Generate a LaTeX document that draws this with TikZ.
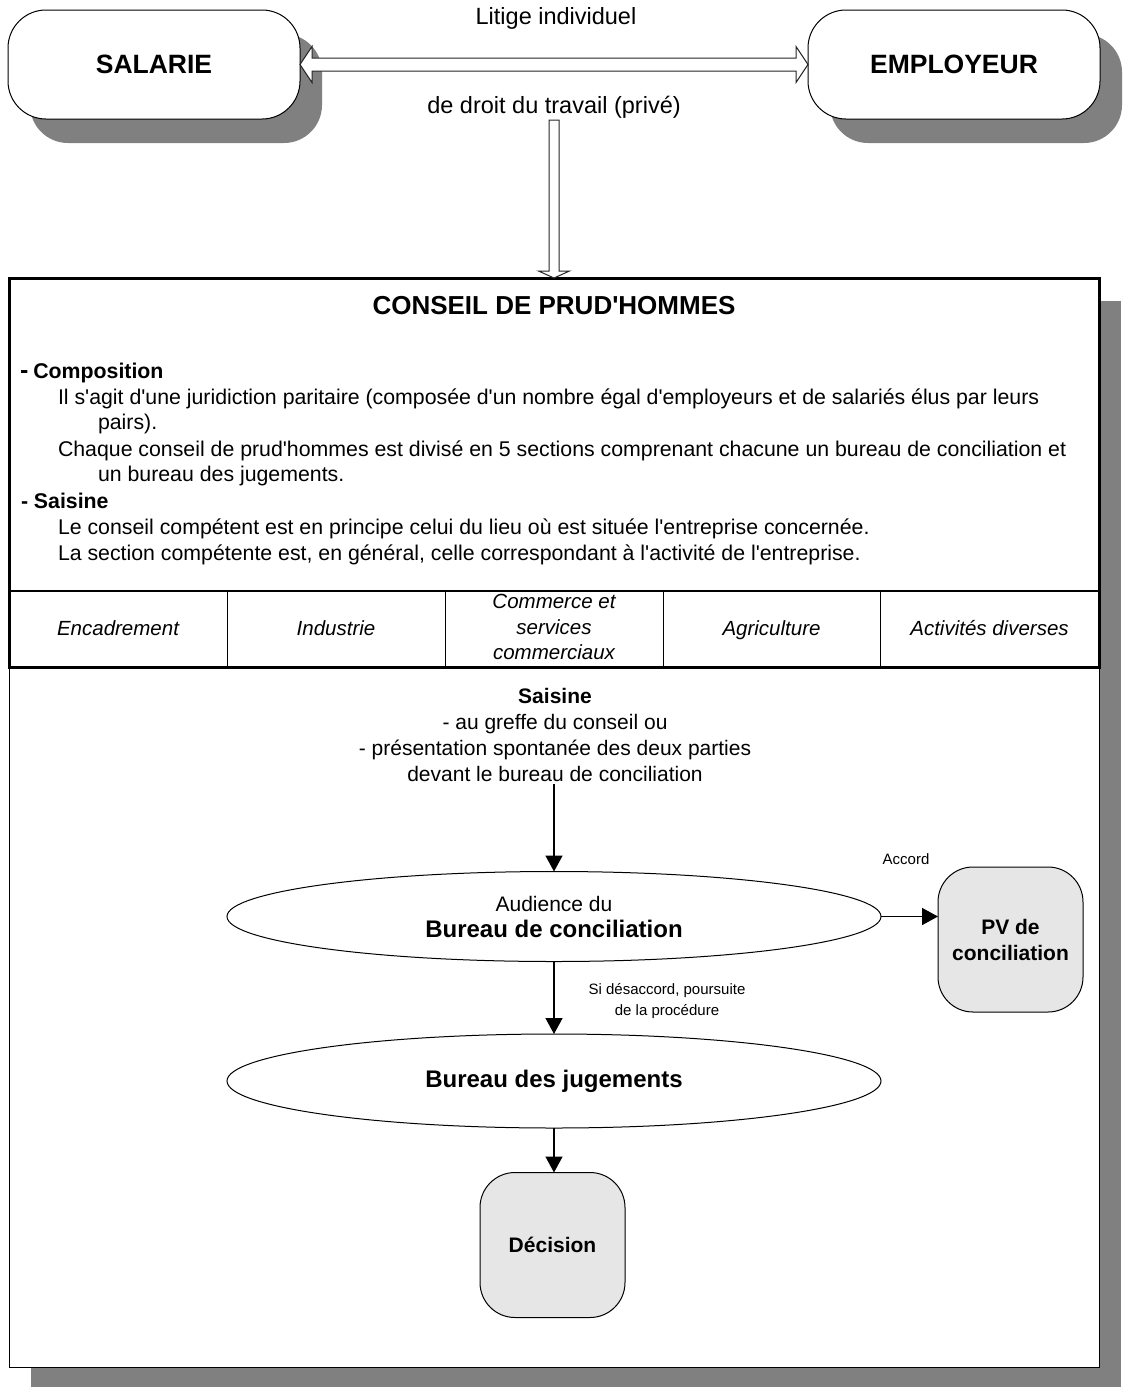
\documentclass[tikz,border=0pt]{standalone}
\usepackage{fontspec}
\setmainfont{Liberation Sans}
\newfontfamily\plainfam{Liberation Sans}
\usetikzlibrary{calc,arrows.meta,shapes.geometric,shadows}
\definecolor{shadowgray}{HTML}{808080}
\definecolor{boxgray}{HTML}{E6E6E6}
\begin{document}
\plainfam
\begin{tikzpicture}[x=1pt,y=-1pt,
  every node/.style={inner sep=0pt, outer sep=0pt},
  body/.style={font=\fontsize{21.3}{25.5}\selectfont, anchor=base west},
  bodyb/.style={font=\bfseries\fontsize{21.3}{25.5}\selectfont, anchor=base west},
  party/.style={draw, line width=1pt, fill=white, rounded corners=38pt,
    minimum width=292pt, minimum height=109pt,
    font=\bfseries\fontsize{26.5}{30}\selectfont,
    drop shadow={shadow xshift=22pt, shadow yshift=-24pt, fill=shadowgray, opacity=1}},
  toplbl/.style={font=\fontsize{23.5}{28}\selectfont},
  hollow/.style={draw=black!85, line width=1pt, fill=white, line join=miter},
  cell/.style={font=\itshape\fontsize{20.5}{25.5}\selectfont, align=center},
  cellone/.style={font=\itshape\fontsize{20.5}{25.5}\selectfont, anchor=base},
  ell/.style={draw, ellipse, line width=1pt, fill=white, minimum width=654pt, align=center},
  procbox/.style={draw, line width=1pt, fill=boxgray, rounded corners=35pt,
    minimum width=145pt, minimum height=145pt, align=center,
    font=\bfseries\fontsize{21}{26}\selectfont},
  arr/.style={line width=1.5pt, -{Triangle[length=16pt, width=17pt]}},
  small/.style={font=\fontsize{15}{21}\selectfont, align=center}
]
\useasboundingbox (0,0) rectangle (1122,1387);

% big box shadow
\fill[shadowgray] (31,301) rectangle (1121,1389);
% lower box
\node[draw, line width=1pt, fill=white, minimum width=1090pt, minimum height=700pt] (low) at (554,1017) {};
% upper box
\node[draw, line width=3pt, fill=white, minimum width=1090pt, minimum height=389pt] (cph) at (554,472.5) {};
\draw[line width=2.5pt] (9,591) -- (1099,591);
\foreach \x in {227,445,663,880} \draw[line width=1pt] (\x,591) -- (\x,667);

% parties
\node[party] (sal) at (154,64.5) {SALARIE};
\node[party] (emp) at (954,64.5) {EMPLOYEUR};

\node[toplbl] (lit1) at (556,18) {Litige individuel};
\node[toplbl] (lit2) at (554,107) {de droit du travail (privé)};

% double hollow arrow
\draw[hollow] (sal.east) -- ($(sal.east)+(12,-18)$) -- ($(sal.east)+(12,-6.5)$)
  -- ($(emp.west)+(-12,-6.5)$) -- ($(emp.west)+(-12,-18)$) -- (emp.west)
  -- ($(emp.west)+(-12,18)$) -- ($(emp.west)+(-12,6.5)$)
  -- ($(sal.east)+(12,6.5)$) -- ($(sal.east)+(12,18)$) -- cycle;

% down hollow arrow
\coordinate (dtop) at (554,120);
\coordinate (dtip) at (dtop |- cph.north);
\draw[hollow] ($(dtop)+(-5,0)$) -- ($(dtop)+(5,0)$) -- ($(dtip)+(5,-7)$)
  -- ($(dtip)+(15.5,-7)$) -- (dtip) -- ($(dtip)+(-15.5,-7)$)
  -- ($(dtip)+(-5,-7)$) -- cycle;

% upper box text
\node[font=\bfseries\fontsize{26}{30}\selectfont] (title) at (554,306) {CONSEIL DE PRUD'HOMMES};
\node[bodyb] (comp) at (20,378) {{\fontsize{25}{25}\selectfont -}\hspace{5pt}Composition};
\node[body] (l1) at (58,404) {Il s'agit d'une juridiction paritaire (composée d'un nombre égal d'employeurs et de salariés élus par leurs};
\node[body] (l2) at (98,429) {pairs).};
\node[body] (l3) at (58,456) {Chaque conseil de prud'hommes est divisé en 5 sections comprenant chacune un bureau de conciliation et};
\node[body] (l4) at (98,481) {un bureau des jugements.};
\node[bodyb] (sais) at (21,508) {- Saisine};
\node[body] (l5) at (58,534) {Le conseil compétent est en principe celui du lieu où est située l'entreprise concernée.};
\node[body] (l6) at (58,560) {La section compétente est, en général, celle correspondant à l'activité de l'entreprise.};

% sections
\node[cellone] (c1) at (118,635) {Encadrement};
\node[cellone] (c2) at (336,635) {Industrie};
\node[cell] (c3) at (554,627) {Commerce et\\services\\commerciaux};
\node[cellone] (c4) at (771.5,635) {Agriculture};
\node[cellone] (c5) at (989.5,635) {Activités diverses};

% procedure
\node[font=\fontsize{21}{25.7}\selectfont, align=center] (saisine) at (555,735)
  {\textbf{Saisine}\\- au greffe du conseil ou\\- présentation spontanée des deux parties\\devant le bureau de conciliation};
\node[ell, minimum height=90pt, font=\fontsize{21}{26}\selectfont] (e1) at (554,916.5)
  {Audience du\\{\bfseries\fontsize{24}{26}\selectfont Bureau de conciliation}};
\node[ell, minimum height=94pt, font=\bfseries\fontsize{24}{28}\selectfont] (e2) at (554,1081) {Bureau des jugements};
\node[procbox] (pv) at (1010.5,939.5) {PV de\\conciliation};
\node[procbox] (dec) at (552.5,1245) {Décision};
\node[small] (acc) at (906,859) {Accord};
\node[small] (desac) at (667,1001) {Si désaccord, poursuite\\de la procédure};

\draw[arr] (saisine.south -| e1.north) ++(0,3) -- (e1.north);
\draw[arr] (e1.east) -- (e1.east -| pv.west);
\draw[arr] (e1.south) -- (e2.north);
\draw[arr] (e2.south) -- (e2.south |- dec.north);
\end{tikzpicture}
\end{document}
